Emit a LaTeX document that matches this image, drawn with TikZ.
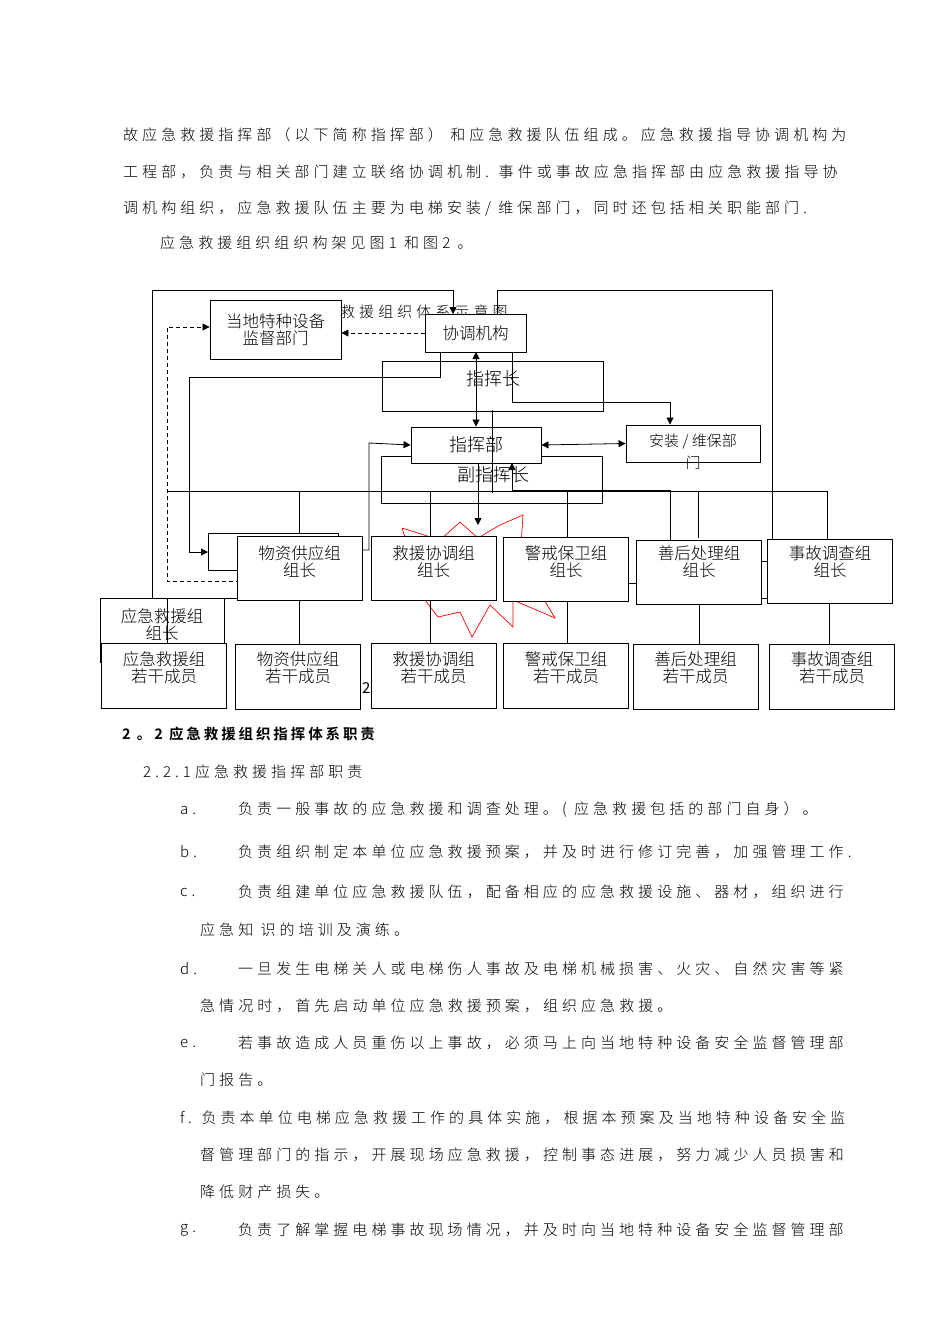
\documentclass[tikz,border=0pt]{standalone}
\usepackage{fontspec}
\setmainfont{Noto Sans CJK SC}[BoldFont={Noto Sans CJK SC Bold}]
\usetikzlibrary{arrows.meta}
\newfontfamily\bodyf{Noto Sans CJK SC Light}[LetterSpace=27]
\newfontfamily\boldf{Noto Sans CJK SC Bold}[LetterSpace=20]
\newfontfamily\boxf{Noto Sans CJK SC Light}
\begin{document}
\begin{tikzpicture}[x=1pt,y=-1pt,
  bx/.style={draw,line width=0.9pt,inner sep=0pt,align=center},
  bf/.style={font=\boxf\fontsize{16.5}{17}\selectfont,align=center},
  ln/.style={line width=0.8pt},
  ar/.style={ln,-{Triangle[length=7pt,width=7pt]}},
  dar/.style={ln,{Triangle[length=7pt,width=7pt]}-{Triangle[length=7pt,width=7pt]}},
  ds/.style={ln,dashed,dash pattern=on 4pt off 3pt},
  tx/.style={anchor=west,inner sep=0pt,font=\bodyf\fontsize{15}{16}\selectfont}]
\useasboundingbox (0,0) rectangle (950,1344);
\fill[white] (0,0) rectangle (950,1344);
% text
\node[tx] at (123,135) {故应急救援指挥部（以下简称指挥部） 和应急救援队伍组成。应急救援指导协调机构为};
\node[tx] at (123,172) {工程部，负责与相关部门建立联络协调机制. 事件或事故应急指挥部由应急救援指导协};
\node[tx] at (123,209) {调机构组织，应急救援队伍主要为电梯安装/ 维保部门，同时还包括相关职能部门.};
\node[tx] at (160,243) {应急救援组织组织构架见图1 和图2 。};
\node[tx,font=\boldf\fontsize{14.5}{15}\selectfont] at (122,734) {2 。2 应急救援组织指挥体系职责};
\node[tx] at (143,772) {2.2.1应急救援指挥部职责};
\foreach \y/\l/\t in {810/a./负责一般事故的应急救援和调查处理。( 应急救援包括的部门自身）。,
 852/b./负责组织制定本单位应急救援预案，并及时进行修订完善，加强管理工作.,
 892/c./负责组建单位应急救援队伍，配备相应的应急救援设施、器材，组织进行,
 969/d./一旦发生电梯关人或电梯伤人事故及电梯机械损害、火灾、自然灾害等紧,
 1043/e./若事故造成人员重伤以上事故，必须马上向当地特种设备安全监督管理部,
 1230/g./负责了解掌握电梯事故现场情况，并及时向当地特种设备安全监督管理部}
 {\node[tx] at (180,\y) {\l}; \node[tx] at (238,\y) {\t};}
\node[tx] at (200,930) {应急知 识的培训及演练。};
\node[tx] at (200,1006) {急情况时，首先启动单位应急救援预案，组织应急救援。};
\node[tx] at (200,1080) {门报告。};
\node[tx] at (180,1118) {f. 负责本单位电梯应急救援工作的具体实施，根据本预案及当地特种设备安全监};
\node[tx] at (200,1155) {督管理部门的指示，开展现场应急救援，控制事态进展，努力减少人员损害和};
\node[tx] at (200,1192) {降低财产损失。};
% faint background title
\node[tx] at (340,312) {救援组织体系示意图};
\node[tx,font=\fontsize{15}{16}\selectfont] at (362,688) {2};
% red star
\draw[red,line width=0.7pt] (402,528)--(440,540)--(460,522)--(478,538)--(500,525)--(523,515)--(520,560)--(555,618)--(513,600)--(513,627)--(490,605)--(472,637)--(460,612)--(438,617)--(425,600)--(402,528);
% boxes
\node[bx,bf,minimum width=131pt,minimum height=59pt] (ld) at (275.5,329.5) {当地特种设备\\监督部门};
\node[bx,bf,fill=white,minimum width=101pt,minimum height=38pt] (xt) at (475.5,333) {协调机构};
\draw[ln] (382,361) rectangle (603,411);
\node[bf,font=\boxf\fontsize{18}{19}\selectfont] (zhz) at (493,379) {指挥长};
\draw[ln] (381,456) rectangle (602,503);
\node[bx,bf,fill=white,minimum width=130pt,minimum height=36pt,font=\boxf\fontsize{18}{19}\selectfont] (zhb) at (476,445) {指挥部};
\node[bf,font=\boxf\fontsize{18}{19}\selectfont] (fz) at (493,475) {副指挥长};
\node[bx,minimum width=134pt,minimum height=37pt] (az) at (693,443.5) {};
\node[bf,font=\boxf\fontsize{15}{16}\selectfont] at (693,442) {安装 / 维保部};
\node[bf,font=\boxf\fontsize{15}{16}\selectfont] at (693,463) {门};
% connectors top
\draw[ar] (152,598) -- (152,290) -- (453,290) -- (453,314);
\draw[ln] (497,314) -- (497,290) -- (772,290) -- (772,539);
\draw[ds,-{Triangle[length=7pt,width=7pt]}] (xt.west |- 0,333) -- (ld.east |- 0,333);
\draw[ds,-{Triangle[length=7pt,width=7pt]}] (345,581) -- (167,581) -- (167,327) -- (ld.west |- 0,327);
\draw[ar] (440,352) -- (440,377) -- (189,377) -- (189,552) -- (208,552);
\draw[dar] (476,352) -- (zhb.north);
\draw[ar] (512,352) -- (512,402) -- (670,402) -- (az.north -| 670,0);
\draw[dar] (zhb.east) -- (az.west);
\draw[ar] (363,550) -- (369,550) -- (369,443) -- (zhb.west);
\draw[ar] (478,463) -- (478,525);
\draw[ln] (492,410) -- (492,493);
\draw[ar] (670,540) -- (670,490) -- (512,490) -- (512,463);
\draw[ln] (167,491) -- (827,491) -- (827,539);
\foreach \x in {299,430,567,698} \draw[ln] (\x,491) -- (\x,538);
% lower boxes
\draw[ln,fill=white] (208,533) rectangle (338,570);
\draw[ln] (152,598) -- (237,598);
\foreach \n/\x/\y/\t in {wz/299.5/568.5/物资供应组, jy/433.5/568.5/救援协调组, jj/566/569.5/警戒保卫组, sh/699/572/善后处理组, sg/830/571/事故调查组}
 {\node[bx,fill=white,minimum width=125pt,minimum height=64pt,anchor=center] (\n) at (\x,\y) {};
  \node at (\x,562) [bf] {\t\\组长};}
\draw[ln] (629,583) -- (636,583);
\draw[ln] (762,561) -- (767,561); \draw[ln] (762,598) -- (767,598);
\node[bx,fill=white,minimum width=124pt,minimum height=64pt] (yj) at (162,630) {};
\node[bf] at (162,625) {应急救援组\\组长};
\draw[ln] (167,598) -- (167,643);
\foreach \n/\x/\y/\t in {yjm/164/675.5/应急救援组, wzm/298/676.5/物资供应组, jym/433.5/675.5/救援协调组, jjm/566/675.5/警戒保卫组, shm/695.5/676.5/善后处理组, sgm/832/676.5/事故调查组}
 {\node[bx,fill=white,minimum width=125pt,minimum height=65pt] (\n) at (\x,\y) {};
  \node at (\x,668) [bf] {\t\\若干成员};}
\foreach \a/\b/\x in {wz/wzm/299,jy/jym/430,jj/jjm/567,sh/shm/699,sg/sgm/829}
  \draw[ln] (\a.south -| \x,0) -- (\b.north -| \x,0);
\end{tikzpicture}
\end{document}
